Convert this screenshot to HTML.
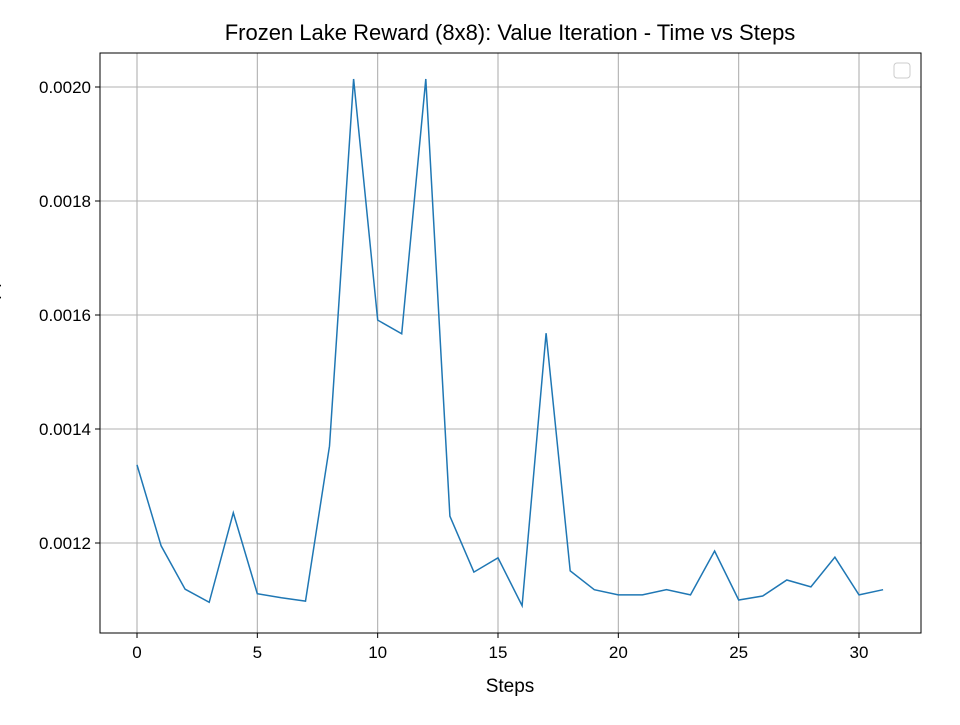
<!DOCTYPE html>
<html><head><meta charset="utf-8"><style>
html,body{margin:0;padding:0;background:#fff;overflow:hidden;}
svg text{font-family:"Liberation Sans","DejaVu Sans",sans-serif;}
</style></head><body>
<svg width="960" height="720" xmlns="http://www.w3.org/2000/svg">
<rect width="960" height="720" fill="#fff"/>
<g id="grid"></g>
<g id="axes"></g>
<path id="line" fill="none" stroke="#1f77b4" stroke-width="1.5"/>
<rect x="100" y="53" width="821" height="580" fill="none" stroke="#000" stroke-width="1"/>
<text x="510" y="40" font-size="22" text-anchor="middle">Frozen Lake Reward (8x8): Value Iteration - Time vs Steps</text>
<text x="510" y="692" font-size="19" text-anchor="middle">Steps</text>
<text transform="translate(-3,315) rotate(-90)" font-size="19" text-anchor="middle">Time (s)</text>
<rect x="894" y="63" width="16" height="15" rx="3" fill="#fff" stroke="#ccc"/>
</svg>
<script>
const steps=[0,1,2,3,4,5,6,7,8,9,10,11,12,13,14,15,16,17,18,19,20,21,22,23,24,25,26,27,28,29,30,31];
const times=[0.001337,0.001195,0.001119,0.001096,0.001253,0.001111,0.001104,0.001098,0.00137,0.002014,0.001591,0.001567,0.002014,0.001247,0.001149,0.001174,0.00109,0.001568,0.001151,0.001118,0.001109,0.001109,0.001118,0.001109,0.001186,0.0011,0.001107,0.001135,0.001123,0.001175,0.001109,0.001118];
const xTicks=[0,5,10,15,20,25,30];
const yTicks=[0.0012,0.0014,0.0016,0.0018,0.0020];
const yTickLabels=["0.0012","0.0014","0.0016","0.0018","0.0020"];
const L=100,R=921,T=53,B=633;
const xs=v=>137+(v-0)*(859-137)/30;
const ys=v=>543-(v-0.0012)*570000;
const NS="http://www.w3.org/2000/svg";
const grid=document.getElementById('grid'),axes=document.getElementById('axes');
function mk(tag,attrs,parent){const e=document.createElementNS(NS,tag);for(const k in attrs)e.setAttribute(k,attrs[k]);parent.appendChild(e);return e;}
xTicks.forEach(t=>{const x=xs(t);
 const g=mk('line',{x1:x,x2:x,y1:T,y2:B,stroke:'#b0b0b0','stroke-width':1.1},grid);
 
 
 const tk=mk('line',{x1:x,x2:x,y1:B,y2:B+5,stroke:'#000'},axes);
 
 
 const tx=mk('text',{x:x,y:B+25,'font-size':17,'text-anchor':'middle'},axes);tx.textContent=t;
 
 
});
yTicks.forEach((t,i)=>{const y=ys(t);
 const g=mk('line',{x1:L,x2:R,y1:y,y2:y,stroke:'#b0b0b0','stroke-width':1.1},grid);
 
 
 const tk=mk('line',{x1:L-5,x2:L,y1:y,y2:y,stroke:'#000'},axes);
 
 
 const tx=mk('text',{x:L-9,y:y+6,'font-size':17,'text-anchor':'end'},axes);tx.textContent=yTickLabels[i];
 
 
});
document.getElementById('line').setAttribute('d',steps.map((s,i)=>(i?'L':'M')+xs(s).toFixed(1)+','+ys(times[i]).toFixed(1)).join(''));
</script>
</body></html>
